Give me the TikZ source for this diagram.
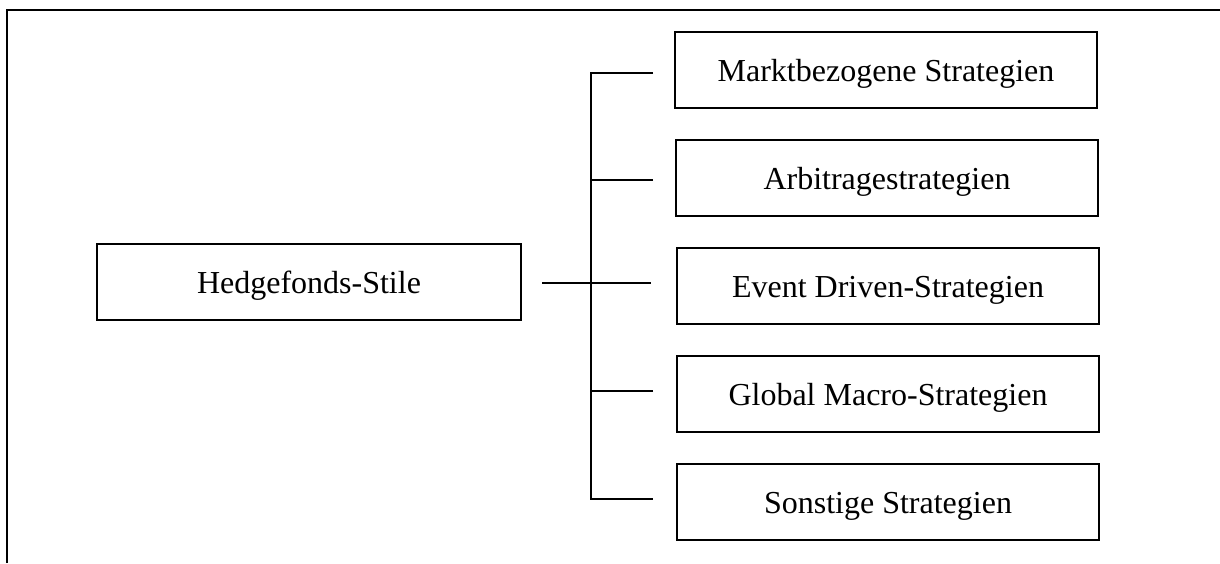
\documentclass[tikz,border=0pt]{standalone}
\usepackage{fontspec}
\setmainfont{Liberation Serif}
\begin{document}
\begin{tikzpicture}[x=0.5pt,y=-0.5pt,
  box/.style={draw,line width=0.7pt,inner sep=0pt,minimum width=211pt,minimum height=38pt,text height=11pt,text depth=0pt,font=\fontsize{16}{19}\selectfont},
  conn/.style={line width=0.7pt},
  frame/.style={line width=1.3pt}]
\useasboundingbox (0,0) rectangle (1220,563);
\draw[frame] (7,563) -- (7,10) -- (1220,10);
\node[box,minimum width=212pt] (H) at (309,282) {Hedgefonds-Stile};
\node[box] (b1) at (886,70) {Marktbezogene Strategien};
\node[box] (b2) at (887,178) {Arbitragestrategien};
\node[box] (b3) at (888,286) {Event Driven-Strategien};
\node[box] (b4) at (888,394) {Global Macro-Strategien};
\node[box] (b5) at (888,502) {Sonstige Strategien};
\coordinate (hs) at (542,283);
\coordinate (j) at (591,283);
\coordinate (je) at (651,283);
\coordinate (t) at (591,73);
\coordinate (bt) at (591,499);
\coordinate (e1) at (653,73);
\coordinate (e2) at (653,180);
\coordinate (e4) at (653,391);
\coordinate (e5) at (653,499);
\draw[conn] (hs) -- (je);
\draw[conn] (e1) -- (t) -- (bt) -- (e5);
\draw[conn] (e2) -- (e2 -| j);
\draw[conn] (e4) -- (e4 -| j);
\end{tikzpicture}
\end{document}
